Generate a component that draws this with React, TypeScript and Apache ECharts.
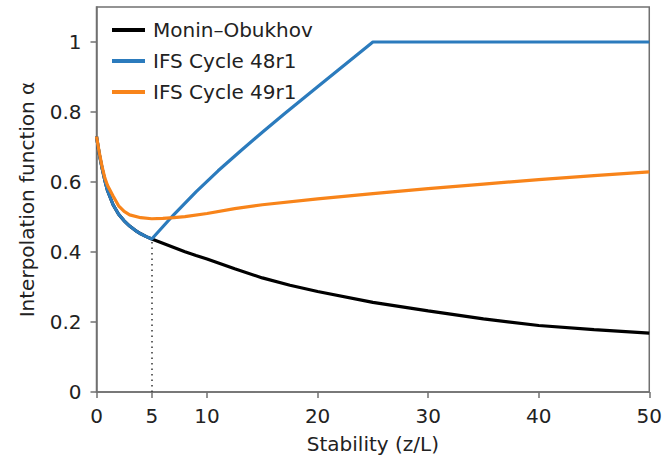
import React, { useEffect, useRef } from "react";
import * as echarts from "echarts";

// Monin–Obukhov
const moX = [0, 0.25, 0.5, 0.75, 1, 1.5, 2, 2.5, 3, 3.5, 4, 4.5, 5, 6, 7, 8, 9, 10, 12.5, 15, 17.5, 20, 25, 30, 35, 40, 45, 50];
const moY = [0.73, 0.68, 0.64, 0.605, 0.575, 0.535, 0.508, 0.489, 0.474, 0.462, 0.452, 0.444, 0.437, 0.425, 0.413, 0.401, 0.39, 0.38, 0.352, 0.326, 0.305, 0.287, 0.256, 0.232, 0.209, 0.19, 0.178, 0.168];

// IFS Cycle 48r1
const c48X = [0, 0.25, 0.5, 0.75, 1, 1.5, 2, 2.5, 3, 3.5, 4, 4.5, 5, 7, 9, 11, 13, 15, 17, 20, 25, 50];
const c48Y = [0.73, 0.68, 0.64, 0.605, 0.575, 0.535, 0.508, 0.489, 0.474, 0.462, 0.452, 0.444, 0.437, 0.507, 0.572, 0.632, 0.688, 0.742, 0.795, 0.872, 1.0, 1.0];

// IFS Cycle 49r1
const c49X = [0, 0.25, 0.5, 0.75, 1, 1.5, 2, 2.5, 3, 4, 5, 6, 7, 8, 10, 12.5, 15, 20, 25, 30, 35, 40, 45, 50];
const c49Y = [0.73, 0.685, 0.645, 0.612, 0.59, 0.56, 0.532, 0.516, 0.506, 0.498, 0.495, 0.496, 0.498, 0.501, 0.51, 0.524, 0.535, 0.552, 0.567, 0.581, 0.594, 0.607, 0.618, 0.629];

const seriesNames = ["Monin–Obukhov", "IFS Cycle 48r1", "IFS Cycle 49r1"];
const xTickValues = [0, 5, 10, 20, 30, 40, 50];
const yTickValues = [0, 0.2, 0.4, 0.6, 0.8, 1];
const divergeX = 5;
const divergeY = 0.437;

const zip = (xs: number[], ys: number[]) => xs.map((x, i) => [x, ys[i]]);

const FONT = "DejaVu Sans";
const TXT = "#222222";
const AX = "#707070";

export default function App() {
  const ref = useRef<HTMLDivElement>(null);
  useEffect(() => {
    document.body.style.margin = "0";
    const chart = echarts.init(ref.current!, null, { renderer: "svg" });
    chart.setOption({
      animation: false,
      backgroundColor: "#fff",
      textStyle: { fontFamily: FONT },
      grid: {
        left: 96.5,
        right: 13,
        top: 7,
        bottom: 69,
        show: true,
        borderColor: AX,
        borderWidth: 1.5,
        backgroundColor: "transparent",
      },
      legend: {
        left: 107,
        top: 15,
        orient: "vertical",
        icon: "rect",
        itemWidth: 33,
        itemHeight: 4,
        itemGap: 11,
        textStyle: { fontFamily: FONT, fontSize: 20, color: TXT, lineHeight: 20, padding: [0, 0, 0, 3] },
        data: seriesNames,
      },
      xAxis: {
        type: "value",
        min: 0,
        max: 50,
        interval: 10,
        name: "Stability (z/L)",
        nameLocation: "middle",
        nameGap: 42,
        nameTextStyle: { fontFamily: FONT, fontSize: 20, color: TXT },
        axisLine: { lineStyle: { color: AX, width: 1.5 } },
        axisTick: { show: true, length: 6, customValues: xTickValues, lineStyle: { color: AX, width: 1.5 } },
        axisLabel: { customValues: xTickValues, fontFamily: FONT, fontSize: 20, color: TXT, margin: 14 },
        splitLine: { show: false },
      },
      yAxis: {
        type: "value",
        min: 0,
        max: 1.1,
        interval: 0.2,
        name: "Interpolation function α",
        nameLocation: "middle",
        nameGap: 60,
        nameTextStyle: { fontFamily: FONT, fontSize: 20, color: TXT },
        axisLine: { show: true, lineStyle: { color: AX, width: 1.5 } },
        axisTick: { show: true, length: 6, customValues: yTickValues, lineStyle: { color: AX, width: 1.5 } },
        axisLabel: { customValues: yTickValues, fontFamily: FONT, fontSize: 20, color: TXT, margin: 15 },
        splitLine: { show: false },
      },
      series: [
        {
          name: seriesNames[0],
          type: "line",
          data: zip(moX, moY),
          showSymbol: false,
          symbol: "none",
          color: "#000000",
          lineStyle: { width: 3.2, color: "#000000" },
          z: 2,
          markLine: {
            silent: true,
            symbol: ["none", "none"],
            label: { show: false },
            lineStyle: { type: [1.5, 4], color: "#333", width: 1.5 },
            data: [[{ coord: [divergeX, 0] }, { coord: [divergeX, divergeY] }]],
          },
        },
        {
          name: seriesNames[1],
          type: "line",
          data: zip(c48X, c48Y),
          showSymbol: false,
          symbol: "none",
          color: "#2b7bbd",
          lineStyle: { width: 3.2, color: "#2b7bbd" },
          z: 3,
        },
        {
          name: seriesNames[2],
          type: "line",
          data: zip(c49X, c49Y),
          showSymbol: false,
          symbol: "none",
          color: "#f8841a",
          lineStyle: { width: 3.2, color: "#f8841a" },
          z: 4,
        },
      ],
    });
    return () => chart.dispose();
  }, []);
  return <div ref={ref} style={{ width: 665, height: 461 }} />;
}
